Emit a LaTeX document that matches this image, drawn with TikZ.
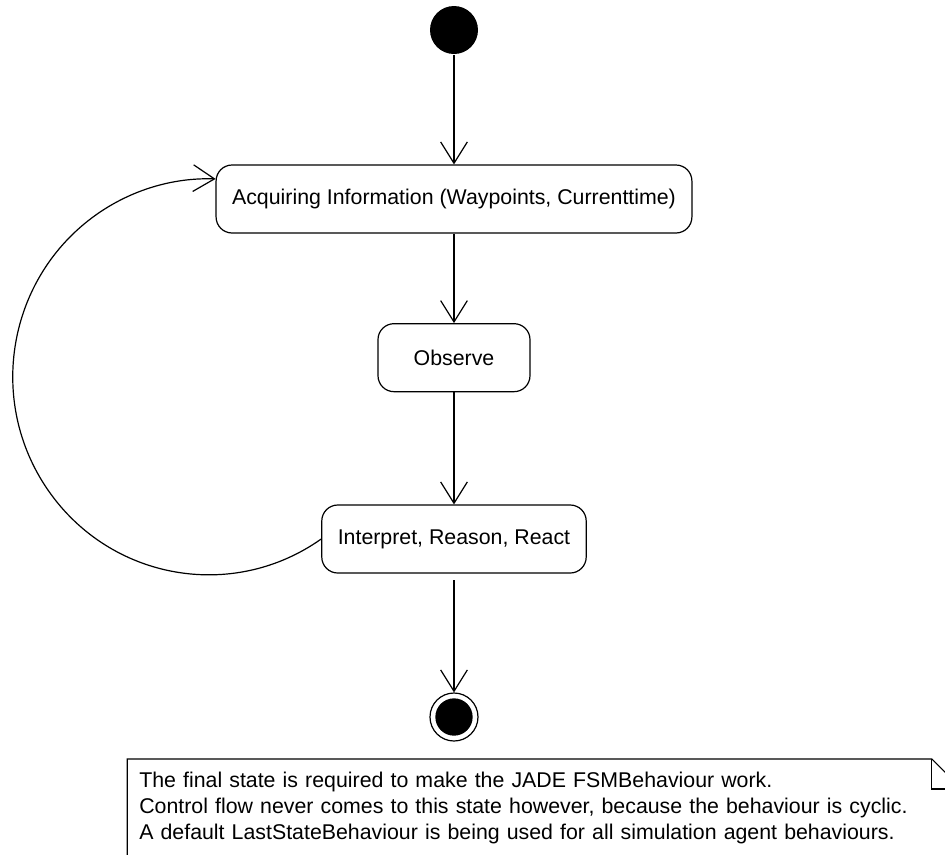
\documentclass[tikz,border=0pt]{standalone}
\usepackage{fontspec}
\setmainfont{Liberation Sans}
\usetikzlibrary{arrows.meta}

\begin{document}
\begin{tikzpicture}[>={Straight Barb[length=16pt,width=20pt]},line width=0.9pt,font=\fontsize{16}{19.5}\selectfont]
		\tikzstyle{startnode}=[circle,fill=black,minimum size=36pt,inner sep=0pt];
		\tikzstyle{endnode}=[circle,draw,minimum size=36pt,inner sep=0pt,
			path picture={\fill (path picture bounding box.center) circle (14pt);}];
		\tikzstyle{state}=[rectangle,draw,rounded corners=12pt,minimum height=51pt,inner xsep=12pt];
		\tikzstyle{note}=[rectangle,anchor=north west,text width=608pt,align=left,
			inner xsep=8.5pt,inner ysep=9pt];
		\useasboundingbox (-340.5pt,22.5pt) rectangle ++(708.75pt,-640.5pt);
		\clip (-340.5pt,22.5pt) rectangle ++(708.75pt,-640.5pt);

		\node[startnode](init){};
		\node[state,below of=init,node distance=126.75pt](acq){Acquiring Information (Waypoints, Currenttime)}edge[<-](init);
		\node[state,below of=acq,node distance=119pt,minimum width=114pt](obs){Observe}edge[<-](acq);
		\node[state,below of=obs,node distance=136pt](ir){Interpret, Reason, React}edge[<-](obs);
		\node[endnode,below of=ir,node distance=133.5pt](final){}edge[<-,shorten >=5pt](ir);
		\draw[->](ir.west) arc[start angle=-55,end angle=-272,x radius=147pt,y radius=148.5pt];

		\node[note](note) at ([shift={(-245pt,-31.5pt)}]final.center){The final state is required to make the JADE FSMBehaviour work.\\
			Control flow never comes to this state however, because the behaviour is cyclic.\\
			A default LastStateBehaviour is being used for all simulation agent behaviours.};
		\draw([yshift=-30pt]note.south west)--(note.north west)--([xshift=-22.5pt]note.north east)
			--([yshift=-22.5pt]note.north east)--([yshift=-30pt]note.south east);
		\draw([xshift=-22.5pt]note.north east)|-([yshift=-22.5pt]note.north east);
	\end{tikzpicture}
\end{document}
